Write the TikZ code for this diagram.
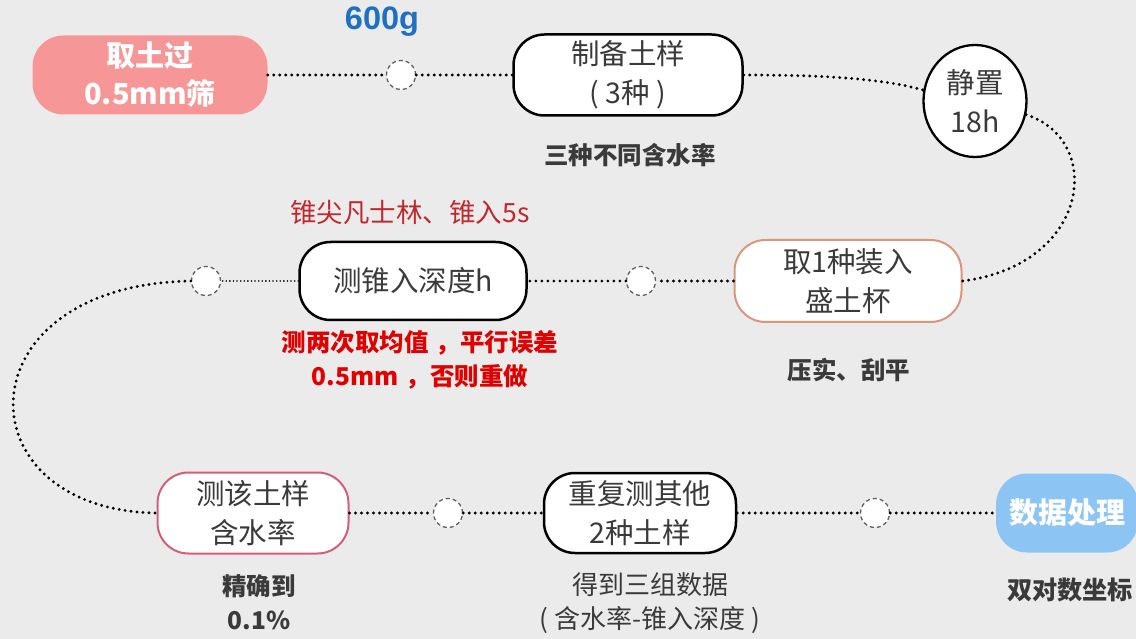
\documentclass[tikz,border=0pt]{standalone}
\usepackage{fontspec}
\setmainfont{Noto Sans CJK SC}
\newfontfamily\arialfont{Liberation Sans}
\usetikzlibrary{shapes.geometric}
\definecolor{bg}{HTML}{EBEBEB}
\definecolor{txt}{HTML}{3A3A3A}
\definecolor{pinkfill}{HTML}{F79696}
\definecolor{bluefill}{HTML}{8CC4F4}
\definecolor{orangeedge}{HTML}{D9967A}
\definecolor{roseedge}{HTML}{D0607A}
\definecolor{darkred}{HTML}{C0282E}
\definecolor{brightred}{HTML}{E00000}
\definecolor{bluetxt}{HTML}{1F70C1}
\newcommand{\cmm}{\hspace{0.3em}，}
\tikzset{
  basebox/.style={rounded corners=31pt, minimum height=80pt, inner sep=0pt, align=center,
    font=\fontsize{28.5}{39}\selectfont, text=txt},
  blackbox/.style={basebox, draw=black, line width=2.5pt, fill=white},
  orangebox/.style={basebox, draw=orangeedge, line width=2pt, fill=white},
  rosebox/.style={basebox, draw=roseedge, line width=2pt, fill=white},
  filledbox/.style={basebox, fill=#1, text=white, font=\fontsize{29}{38}\selectfont\bfseries},
  dcirc/.style={circle, draw=gray!75!black, dash pattern=on 4pt off 3pt, line width=1.3pt, fill=white, minimum size=29pt, inner sep=0pt},
  dotline/.style={line width=3.2pt, dash pattern=on 0pt off 6pt, line cap=round, black},
  blabel/.style={font=\fontsize{24.5}{34}\selectfont\bfseries, text=txt, align=center},
  nlabel/.style={font=\fontsize{26}{34}\selectfont, text=txt, align=center},
}
\begin{document}
\begin{tikzpicture}[x=1pt,y=-1pt]
\fill[bg] (0,0) rectangle (1136,639);
\useasboundingbox (0,0) rectangle (1136,639);

% top row
\node[filledbox=pinkfill, minimum width=235pt, minimum height=79pt] (n1) at (150,75) {取土过\\0.5mm筛};
\node[dcirc] (c1) at (401,75) {};
\node[blackbox, minimum width=229pt, minimum height=81pt] (n2) at (628,75) {制备土样\\( 3种 )};
\node[ellipse, draw=black, line width=2.3pt, fill=white, minimum width=103pt, minimum height=112pt, inner sep=0pt, align=center, font=\fontsize{28.5}{39}\selectfont, text=txt] (n3) at (975,101) {静置\\18h};

% middle row
\node[orangebox, minimum width=227pt, minimum height=82pt] (n4) at (848,281) {取1种装入\\盛土杯};
\node[dcirc] (c2) at (641,281) {};
\node[blackbox, minimum width=227pt, minimum height=78pt] (n5) at (413,281) {测锥入深度h};
\node[dcirc] (c3) at (206,281) {};

% bottom row
\node[rosebox, minimum width=191pt, minimum height=81pt] (n6) at (253,513) {测该土样\\含水率};
\node[dcirc] (c4) at (448,513) {};
\node[blackbox, minimum width=192pt] (n7) at (640,513) {重复测其他\\2种土样};
\node[dcirc] (c5) at (875,513) {};
\node[filledbox=bluefill, minimum width=142pt, minimum height=79pt] (n8) at (1067,513) {数据处理};

% labels
\node[font=\arialfont\fontsize{32.5}{36}\selectfont\bfseries, text=bluetxt] (l1) at (382,22) {600g};
\node[blabel] (l2) at (630,155) {三种不同含水率};
\node[font=\fontsize{26.5}{34}\selectfont, text=darkred] (l3) at (410,212) {锥尖凡士林、锥入5s};
\node[font=\fontsize{24.5}{34}\selectfont\bfseries, text=brightred, align=center] (l4) at (420,360) {测两次取均值\cmm 平行误差\\0.5mm\cmm 否则重做};
\node[blabel] (l5) at (849,370) {压实、刮平};
\node[blabel] (l6) at (259,602) {精确到\\0.1\%};
\node[nlabel] (l7) at (650,603) {得到三组数据\\( 含水率-锥入深度 )};
\node[font=\fontsize{25.2}{34}\selectfont\bfseries, text=txt] (l8) at (1070,590) {双对数坐标};

% connectors
\draw[dotline] (n1) -- (c1);
\draw[dotline] (c1) -- (n2);
\draw[dotline] (n2.east) .. controls (820,75) and (880,78) .. (n3.168);
\draw[dotline] (n3.-15) .. controls (1105,140) and (1090,265) .. (n4.east);
\draw[dotline] (n4) -- (c2);
\draw[dotline] (c2) -- (n5);
\draw[dotline, line width=1.8pt, dash pattern=on 0pt off 3.6pt] (n5) -- (c3);
\draw[dotline] (c3.west) .. controls (-40,285) and (-40,510) .. (n6.west);
\draw[dotline] (n6) -- (c4);
\draw[dotline] (c4) -- (n7);
\draw[dotline] (n7) -- (c5);
\draw[dotline] (c5) -- (n8);
\end{tikzpicture}
\end{document}
